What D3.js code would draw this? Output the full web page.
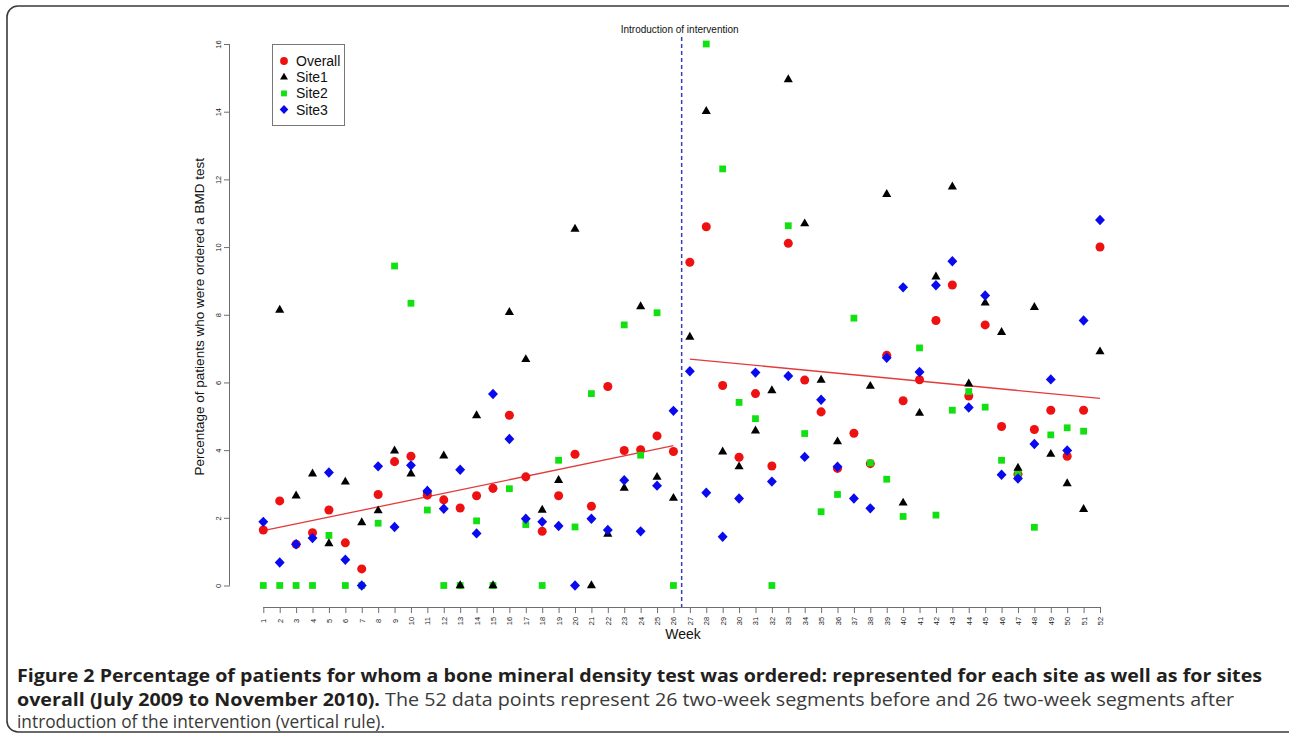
<!DOCTYPE html>
<html>
<head>
<meta charset="utf-8">
<script src="https://cdn.jsdelivr.net/npm/d3@7"></script>
<style>
  html, body { margin: 0; padding: 0; background: #fff; }
  svg { display: block; }
</style>
</head>
<body>
<svg id="chart" width="1289" height="737"></svg>
<script>
// ---- data ----
const weeks = d3.range(1, 53);
const overall = [1.64,2.50,1.22,1.56,2.23,1.26,0.49,2.69,3.66,3.82,2.67,2.53,2.29,2.65,2.87,5.03,3.21,1.60,2.65,3.88,2.34,5.88,3.99,4.01,4.42,3.96,
                 9.55,10.60,5.91,3.79,5.67,3.53,10.11,6.07,5.13,3.46,4.50,3.60,6.80,5.46,6.08,7.83,8.88,5.60,7.70,4.70,3.29,4.61,5.18,3.82,5.18,10.00];
const site1 = [null,8.14,2.65,3.30,1.24,3.06,1.86,2.21,3.98,3.30,2.80,3.83,0,5.02,0,8.07,6.68,2.23,3.11,10.53,0,1.52,2.88,8.24,3.20,2.58,
               7.34,14.01,3.95,3.51,4.57,5.76,14.95,10.69,6.07,4.25,null,5.89,11.56,2.44,5.09,9.12,11.78,5.96,8.35,7.48,3.47,8.22,3.88,3.01,2.25,6.91];
const site2 = [0,0,0,0,1.48,0,0,1.84,9.44,8.34,2.23,0,0,1.91,0,2.86,1.80,0,3.70,1.73,5.67,null,7.70,3.85,8.06,0,
               null,16.0,12.31,5.41,4.93,0,10.63,4.49,2.18,2.69,7.90,3.62,3.14,2.04,7.02,2.08,5.18,5.73,5.27,3.70,3.29,1.72,4.45,4.66,4.56,null];
const site3 = [1.88,0.68,1.22,1.40,3.34,0.76,0,3.52,1.73,3.55,2.79,2.27,3.42,1.54,5.66,4.33,1.97,1.88,1.76,0,1.97,1.64,3.11,1.60,2.95,5.16,
               6.33,2.74,1.44,2.57,6.29,3.07,6.19,3.80,5.49,3.51,2.57,2.28,6.73,8.81,6.31,8.87,9.58,5.26,8.57,3.27,3.16,4.18,6.09,3.99,7.83,10.80];
const trendPre = [[1, 1.62], [26, 4.13]];
const trendPost = [[27, 6.69], [52, 5.53]];
const interventionWeek = 26.5;
const yTicks = [0,2,4,6,8,10,12,14,16];
const seriesNames = ["Overall","Site1","Site2","Site3"];

// ---- setup ----
const svg = d3.select("#chart");
const x = d3.scaleLinear().domain([1, 52]).range([263.3, 1100]);
const y = d3.scaleLinear().domain([0, 16]).range([585.5, 44]);

const colors = {Overall:"#ee1111", Site1:"#000000", Site2:"#11e011", Site3:"#0a0aee"};
const diamond = { draw(ctx, size) { const r = Math.sqrt(size) * 0.62; ctx.moveTo(0,-r*1.05); ctx.lineTo(r,0); ctx.lineTo(0,r*1.05); ctx.lineTo(-r,0); ctx.closePath(); } };
const shapes = {Overall:d3.symbolCircle, Site1:d3.symbolTriangle, Site2:d3.symbolSquare, Site3:diamond};
const sizes = {Overall:64, Site1:36, Site2:46, Site3:64};

// frame
svg.append("rect").attr("x", 7).attr("y", 6).attr("width", 1295).attr("height", 726)
  .attr("rx", 11).attr("fill", "none").attr("stroke", "#3a3a3a").attr("stroke-width", 1.6);

// axes
const axisColor = "#6e6e6e";
const xAxis = svg.append("g").attr("transform", "translate(0,607)")
  .call(d3.axisBottom(x).tickValues(weeks).tickSize(6).tickFormat(d3.format("d")));
xAxis.select(".domain").attr("stroke", axisColor).attr("d", `M${x(1)},0.5H${x(52)}`);
xAxis.selectAll(".tick line").attr("stroke", axisColor);
xAxis.selectAll(".tick text")
  .attr("font-family", "Liberation Sans, Arial, sans-serif").attr("font-size", 7.5).attr("fill", "#222")
  .attr("text-anchor", "middle").attr("dy", null).attr("y", null)
  .attr("transform", "translate(0,14) rotate(-90)").attr("dominant-baseline", "central");

const yAxis = svg.append("g").attr("transform", "translate(230,0)")
  .call(d3.axisLeft(y).tickValues(yTicks).tickSize(6).tickFormat(d3.format("d")));
yAxis.select(".domain").attr("stroke", axisColor).attr("d", `M-0.5,${y(0)}V${y(16)}`);
yAxis.selectAll(".tick line").attr("stroke", axisColor);
yAxis.selectAll(".tick text")
  .attr("font-family", "Liberation Sans, Arial, sans-serif").attr("font-size", 7.5).attr("fill", "#222")
  .attr("text-anchor", "middle").attr("x", null).attr("dy", null)
  .attr("transform", "translate(-12,0) rotate(-90)").attr("dominant-baseline", "central");

// axis titles
svg.append("text").attr("x", 683).attr("y", 639).attr("text-anchor", "middle")
  .attr("font-family", "Liberation Sans, Arial, sans-serif").attr("font-size", 14).attr("fill", "#111").text("Week");
svg.append("text").attr("transform", `translate(204,${(y(0)+y(16))/2 + 2}) rotate(-90)`).attr("text-anchor", "middle")
  .attr("font-family", "Liberation Sans, Arial, sans-serif").attr("font-size", 13.5).attr("fill", "#111")
  .text("Percentage of patients who were ordered a BMD test");

// intervention line
svg.append("line").attr("x1", x(interventionWeek)).attr("x2", x(interventionWeek))
  .attr("y1", 37).attr("y2", 607).attr("stroke", "#3a3ac0").attr("stroke-width", 1.5)
  .attr("stroke-dasharray", "4,3");
svg.append("text").attr("x", x(interventionWeek) - 2).attr("y", 33).attr("text-anchor", "middle")
  .attr("font-family", "Liberation Sans, Arial, sans-serif").attr("font-size", 10).attr("fill", "#111")
  .text("Introduction of intervention");

// trend lines
const line = d3.line().x(d => x(d[0])).y(d => y(d[1]));
[trendPre, trendPost].forEach(t => {
  svg.append("path").attr("d", line(t)).attr("fill", "none").attr("stroke", "#e33a3a").attr("stroke-width", 1.3);
});

// points (draw order: Overall, Site2, Site1, Site3)
const seriesData = {Overall: overall, Site1: site1, Site2: site2, Site3: site3};
["Overall","Site2","Site1","Site3"].forEach(name => {
  const sym = d3.symbol().type(shapes[name]).size(sizes[name]);
  const pts = seriesData[name].map((v, i) => ({w: weeks[i], v})).filter(d => d.v !== null);
  svg.append("g").selectAll("path").data(pts).join("path")
    .attr("transform", d => `translate(${x(d.w)},${y(d.v)})`)
    .attr("d", sym).attr("fill", colors[name]);
});

// legend
const lg = svg.append("g");
lg.append("rect").attr("x", 272.5).attr("y", 44.5).attr("width", 72).attr("height", 81)
  .attr("fill", "#fff").attr("stroke", "#777").attr("stroke-width", 1);
seriesNames.forEach((name, i) => {
  const cy = 61 + i * 16.2;
  const sym = d3.symbol().type(shapes[name]).size(sizes[name] * 0.75);
  lg.append("path").attr("transform", `translate(284,${cy})`).attr("d", sym).attr("fill", colors[name]);
  lg.append("text").attr("x", 296).attr("y", cy).attr("dominant-baseline", "central")
    .attr("font-family", "Liberation Sans, Arial, sans-serif").attr("font-size", 14).attr("fill", "#111").text(name);
});

// caption
const cap = svg.append("g").attr("font-family", "Liberation Sans Narrow, Open Sans, sans-serif").attr("font-size", 18).attr("fill", "#231f20");
cap.append("text").attr("x", 17).attr("y", 682).attr("font-weight", "bold")
  .attr("textLength", 1245).attr("lengthAdjust", "spacingAndGlyphs")
  .text("Figure 2 Percentage of patients for whom a bone mineral density test was ordered: represented for each site as well as for sites");
const l2 = cap.append("text").attr("x", 17).attr("y", 706).attr("textLength", 1217).attr("lengthAdjust", "spacingAndGlyphs");
l2.append("tspan").attr("font-weight", "bold").text("overall (July 2009 to November 2010).");
l2.append("tspan").attr("fill", "#3a3a3a").text(" The 52 data points represent 26 two-week segments before and 26 two-week segments after");
cap.append("text").attr("x", 17).attr("y", 728).attr("fill", "#3a3a3a")
  .attr("textLength", 368).attr("lengthAdjust", "spacingAndGlyphs")
  .text("introduction of the intervention (vertical rule).");
</script>
</body>
</html>
